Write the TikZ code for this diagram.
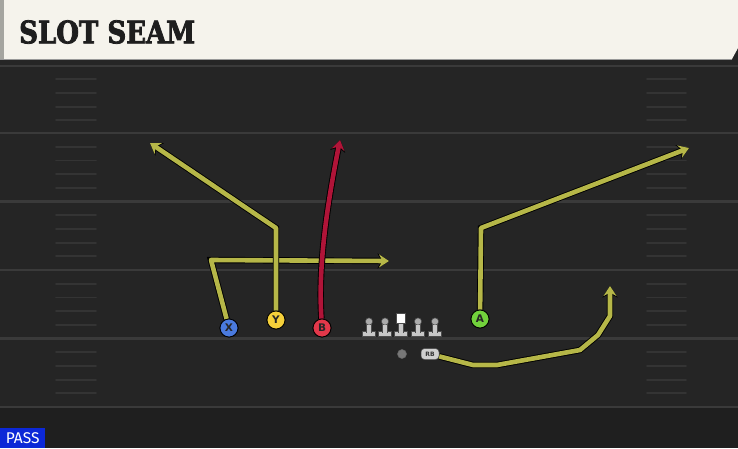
\documentclass[tikz,border=0pt]{standalone}
\usepackage{fontspec}
\setmainfont{DejaVu Serif}
\newfontfamily\titlefont[FakeBold=2.5,FakeStretch=0.84]{DejaVu Serif Bold}
\newfontfamily\badgefont{Fira Sans}
\newfontfamily\plfont{DejaVu Sans}
\usetikzlibrary{arrows.meta}
\definecolor{fieldbg}{RGB}{37,37,37}
\definecolor{fieldlow}{RGB}{31,31,31}
\definecolor{yardline}{RGB}{58,58,58}
\definecolor{hashc}{RGB}{52,52,52}
\definecolor{cream}{RGB}{245,243,236}
\definecolor{stripgray}{RGB}{165,165,160}
\definecolor{titlec}{RGB}{30,30,30}
\definecolor{passblue}{RGB}{12,40,215}
\definecolor{routey}{RGB}{182,183,72}
\definecolor{router}{RGB}{176,20,56}
\definecolor{xblue}{RGB}{74,122,222}
\definecolor{yyel}{RGB}{245,208,58}
\definecolor{bred}{RGB}{226,56,74}
\definecolor{agreen}{RGB}{114,210,60}
\definecolor{lmgray}{RGB}{200,200,200}
\definecolor{lmhead}{RGB}{170,170,170}
\definecolor{qbgray}{RGB}{120,120,120}
\tikzset{
  route/.style={line width=4.6pt, draw=routey, line join=round,
    -{Stealth[length=10pt,width=13pt,inset=3.5pt]},
    preaction={draw=black, line width=6.4pt, -{Stealth[length=11.5pt,width=15pt,inset=4pt]}}},
  redroute/.style={route, draw=router},
  player/.style={circle, draw=black, line width=0.8pt, minimum size=18pt, inner sep=0pt,
    font=\plfont\bfseries\fontsize{10.5}{10.5}\selectfont, text=black!85},
  lineman/.pic={
    \fill[lmgray, draw=black!70, line width=0.5pt] (-6.5,5) rectangle (6.5,10);
    \fill[lmgray, draw=black!70, line width=0.5pt] (-2.3,-2) rectangle (2.3,6);
    \fill[lmhead, draw=black!70, line width=0.5pt] (0,-4.5) circle (3.6);
    \fill[lmgray] (-1.8,-1) rectangle (1.8,6.5);
  },
  centerman/.pic={
    \fill[lmgray, draw=black!70, line width=0.5pt] (-6.5,5) rectangle (6.5,10);
    \fill[lmgray, draw=black!70, line width=0.5pt] (-2.3,-3) rectangle (2.3,6);
    \fill[white, draw=black!70, line width=0.5pt] (-4.5,-13) rectangle (4.5,-3);
    \fill[lmgray] (-1.8,-2.5) rectangle (1.8,6.5);
  }
}
\begin{document}
\begin{tikzpicture}[x=1pt,y=-1pt]
\useasboundingbox (0,0) rectangle (738,448);
% field
\fill[fieldbg] (0,0) rectangle (738,448);
\fill[fieldlow] (0,408) rectangle (738,448);
\fill[black!85] (0,58) rectangle (738,65);
\draw[yardline, line width=1.2pt] (0,66) -- (738,66);
% yard lines
\foreach \yy in {133,201.5,270,338.5,407}
  \draw[yardline, line width=2.6pt] (0,\yy) -- (738,\yy);
% hash marks
\foreach \yy in {65.5,133,201.5,270,338.5}
  \foreach \k in {1,2,3,4}{
    \draw[hashc, line width=1.8pt, line cap=round] (56,\yy+13.7*\k) -- (96,\yy+13.7*\k);
    \draw[hashc, line width=1.8pt, line cap=round] (647,\yy+13.7*\k) -- (686,\yy+13.7*\k);
  }
% header
\fill[cream] (0,0) -- (738,0) -- (738,48) -- (732,59) -- (0,59) -- cycle;
\fill[stripgray] (0,0) rectangle (4,59);
\draw[black!40, line width=0.6pt] (0,59.3) -- (732,59.3);
\node[anchor=west, inner sep=0pt, text=titlec,
  font=\titlefont\fontsize{31}{31}\selectfont] (title) at (19,32) {SLOT SEAM};
% PASS badge
\node[anchor=south west, fill=passblue, text=white, inner xsep=3pt, inner ysep=2pt,
  minimum width=45pt, minimum height=20pt,
  font=\badgefont\fontsize{15.5}{15.5}\selectfont] (pass) at (0,448) {PASS};
% route coordinates
\coordinate (xc) at (211,260);
\coordinate (xt) at (389,261);
\coordinate (yc) at (276,228);
\coordinate (yt) at (150,143);
\coordinate (bt) at (340,140);
\coordinate (ac) at (481,228);
\coordinate (at) at (689,148);
\coordinate (r1) at (473,365);
\coordinate (r2) at (497,365);
\coordinate (r3) at (580,350);
\coordinate (r4) at (598,335);
\coordinate (r5) at (610,316);
\coordinate (rt) at (610,286);
% players
\node[player, fill=xblue] (X) at (229,328) {X};
\node[player, fill=yyel] (Y) at (276,320) {Y};
\node[player, fill=bred] (B) at (322,328) {B};
\node[player, fill=agreen] (A) at (480,319) {A};
\foreach \xx in {369,385,418,435} \pic at (\xx,326) {lineman};
\pic at (401,326) {centerman};
\node[circle, fill=qbgray, draw=black!60, line width=0.5pt, minimum size=9pt, inner sep=0pt] (QB) at (402,354) {};
\node[rounded corners=3.5pt, fill=lmgray!85, draw=black!70, line width=0.5pt, minimum width=18pt,
  minimum height=11pt, inner sep=0pt, font=\plfont\bfseries\fontsize{6}{6}\selectfont, text=black!80] (RB) at (430,354) {RB};
% routes
\draw[route] (X) -- (xc) -- (xt);
\draw[route] (Y) -- (yc) -- (yt);
\draw[redroute] (B) .. controls (319,280) and (322,230) .. (bt);
\draw[route] (A) -- (ac) -- (at);
\draw[route] (RB) -- (r1) -- (r2) -- (r3) -- (r4) -- (r5) -- (rt);
% redraw players on top
\node[player, fill=xblue] at (X) {X};
\node[player, fill=yyel] at (Y) {Y};
\node[player, fill=bred] at (B) {B};
\node[player, fill=agreen] at (A) {A};
\end{tikzpicture}
\end{document}
